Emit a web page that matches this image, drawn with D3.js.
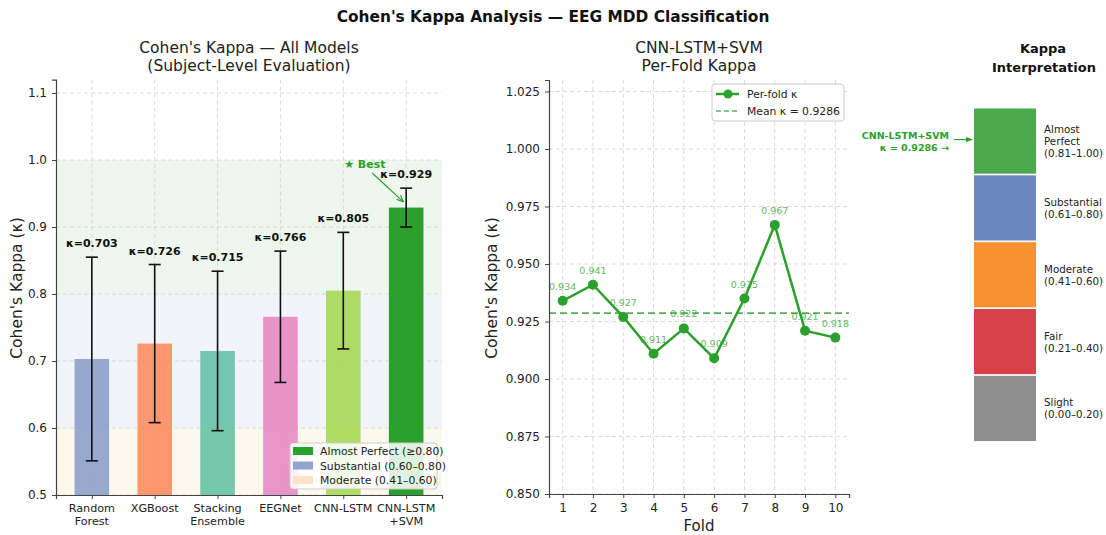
<!DOCTYPE html>
<html>
<head>
<meta charset="utf-8">
<script src="https://cdn.jsdelivr.net/npm/d3@7"></script>
<style>
  body { margin: 0; background: #fff; }
  svg { font-family: "DejaVu Sans", sans-serif; }
</style>
</head>
<body>
<svg id="chart" width="1106" height="535"></svg>
<script>
// ---- data ----
const models = ["Random Forest", "XGBoost", "Stacking Ensemble", "EEGNet", "CNN-LSTM", "CNN-LSTM +SVM"];
const modelLines = [["Random", "Forest"], ["XGBoost"], ["Stacking", "Ensemble"], ["EEGNet"], ["CNN-LSTM"], ["CNN-LSTM", "+SVM"]];
const kappaMean = [0.703, 0.726, 0.715, 0.766, 0.805, 0.929];
const kappaStd = [0.152, 0.118, 0.119, 0.098, 0.087, 0.029];
const barColors = ["#8da0cb", "#fc8d62", "#66c2a5", "#e78ac3", "#a6d854", "#2ca02c"];
const leftTicks = [0.5, 0.6, 0.7, 0.8, 0.9, 1.0, 1.1];

const folds = [1, 2, 3, 4, 5, 6, 7, 8, 9, 10];
const foldKappa = [0.934, 0.941, 0.927, 0.911, 0.922, 0.909, 0.935, 0.967, 0.921, 0.918];
const meanKappa = 0.9286;
const midTicks = [0.850, 0.875, 0.900, 0.925, 0.950, 0.975, 1.000, 1.025];

const bands = [
  { name: "Almost Perfect (≥0.80)", lo: 0.8, hi: 1.0, fill: "#edf7ed", swatch: "#2ca02c" },
  { name: "Substantial (0.60–0.80)", lo: 0.6, hi: 0.8, fill: "#f1f5fb", swatch: "#8fa3cf" },
  { name: "Moderate (0.41–0.60)", lo: 0.5, hi: 0.6, fill: "#fdf8ec", swatch: "#fde3c4" }
];

const levels = [["Almost", "Perfect", "(0.81–1.00)"], ["Substantial", "(0.61–0.80)"], ["Moderate", "(0.41–0.60)"], ["Fair", "(0.21–0.40)"], ["Slight", "(0.00–0.20)"]];
const levelColors = ["#4caa4c", "#6a88bd", "#f89131", "#d8414a", "#8e8e8e"];

const svg = d3.select("#chart");
const defs = svg.append("defs");
const gridColor = "#d0d0d0";
const textColor = "#222";

// ---- main title ----
svg.append("text").attr("x", 553).attr("y", 22).attr("text-anchor", "middle")
  .attr("font-size", 15.4).attr("font-weight", "bold").attr("fill", "#111")
  .text("Cohen's Kappa Analysis — EEG MDD Classification");

// ================= Left: bar chart =================
{
  const x = d3.scaleLinear().domain([-0.57, 5.57]).range([56, 442]);
  const y = d3.scaleLinear().domain([0.5, 1.12]).range([495, 79.6]);
  const g = svg.append("g");

  // interpretation bands
  bands.forEach(b => {
    g.append("rect").attr("x", x(-0.57)).attr("width", x(5.57) - x(-0.57))
      .attr("y", y(b.hi)).attr("height", y(b.lo) - y(b.hi)).attr("fill", b.fill);
  });

  // grid
  g.selectAll(".hg").data(leftTicks).join("line")
    .attr("x1", x(-0.57)).attr("x2", x(5.57)).attr("y1", d => y(d)).attr("y2", d => y(d))
    .attr("stroke", gridColor).attr("stroke-dasharray", "4,3").attr("stroke-width", 0.8);
  g.selectAll(".vg").data(models).join("line")
    .attr("x1", (d, i) => x(i)).attr("x2", (d, i) => x(i)).attr("y1", y(1.12)).attr("y2", y(0.5))
    .attr("stroke", gridColor).attr("stroke-dasharray", "4,3").attr("stroke-width", 0.8);

  // bars
  const bw = 0.55;
  g.selectAll(".bar").data(kappaMean).join("rect")
    .attr("x", (d, i) => x(i - bw / 2)).attr("width", x(bw) - x(0))
    .attr("y", d => y(d)).attr("height", d => y(0.5) - y(d))
    .attr("fill", (d, i) => barColors[i]).attr("opacity", (d, i) => i === 5 ? 1 : 0.9);

  // error bars and value labels
  kappaMean.forEach((m, i) => {
    const lo = m - kappaStd[i], hi = m + kappaStd[i];
    g.append("line").attr("x1", x(i)).attr("x2", x(i)).attr("y1", y(hi)).attr("y2", y(Math.max(lo, 0.5)))
      .attr("stroke", "#111").attr("stroke-width", 1.6);
    [hi, lo].forEach(v => {
      if (v >= 0.5) g.append("line").attr("x1", x(i) - 6).attr("x2", x(i) + 6).attr("y1", y(v)).attr("y2", y(v))
        .attr("stroke", "#111").attr("stroke-width", 1.6);
    });
    g.append("text").attr("x", x(i)).attr("y", y(hi) - 10).attr("text-anchor", "middle")
      .attr("font-size", 11).attr("font-weight", "bold").attr("fill", "#111")
      .text("κ=" + m.toFixed(3));
  });

  // best-model annotation
  const bi = 5;
  defs.append("marker").attr("id", "arrG").attr("viewBox", "0 0 10 10")
    .attr("refX", 9).attr("refY", 5).attr("markerWidth", 7).attr("markerHeight", 7).attr("orient", "auto")
    .attr("markerUnits", "userSpaceOnUse")
    .append("path").attr("d", "M0,1 L10,5 L0,9").attr("fill", "none").attr("stroke", "#2ca02c").attr("stroke-width", 1.6);
  g.append("line").attr("x1", x(bi) - 34).attr("y1", y(1.0) + 13)
    .attr("x2", x(bi) - 3).attr("y2", y(kappaMean[bi]) - 6)
    .attr("stroke", "#2ca02c").attr("stroke-width", 1.2).attr("marker-end", "url(#arrG)");
  g.append("text").attr("x", x(bi) - 62).attr("y", y(1.0) + 8)
    .attr("font-size", 11).attr("font-weight", "bold").attr("fill", "#2ca02c").text("★ Best");

  // axes
  const ya = d3.axisLeft(y).tickValues(leftTicks).tickFormat(d3.format(".1f")).tickSize(4).tickPadding(5);
  const yg = g.append("g").attr("transform", "translate(56,0)").call(ya);
  const xa = d3.axisBottom(x).tickValues(d3.range(6)).tickFormat("").tickSize(4);
  const xg = g.append("g").attr("transform", "translate(0,495)").call(xa);
  [yg, xg].forEach(a => {
    a.select(".domain").attr("stroke", "#444").attr("stroke-width", 1.2);
    a.selectAll(".tick line").attr("stroke", "#444");
    a.selectAll("text").attr("font-size", 12).attr("fill", textColor).attr("font-family", "DejaVu Sans");
  });
  modelLines.forEach((lines, i) => {
    lines.forEach((t, j) => {
      g.append("text").attr("x", x(i)).attr("y", 512 + j * 13).attr("text-anchor", "middle")
        .attr("font-size", 11.2).attr("fill", textColor).text(t);
    });
  });

  g.append("text").attr("transform", "translate(22,288) rotate(-90)").attr("text-anchor", "middle")
    .attr("font-size", 15.5).attr("fill", textColor).text("Cohen's Kappa (κ)");
  g.append("text").attr("x", 249).attr("y", 53).attr("text-anchor", "middle").attr("font-size", 15.5).attr("fill", textColor)
    .text("Cohen's Kappa — All Models");
  g.append("text").attr("x", 249).attr("y", 71).attr("text-anchor", "middle").attr("font-size", 15.5).attr("fill", textColor)
    .text("(Subject-Level Evaluation)");

  // legend
  const lg = g.append("g").attr("transform", "translate(290,443)");
  lg.append("rect").attr("width", 147).attr("height", 46).attr("rx", 3)
    .attr("fill", "rgba(255,255,255,0.85)").attr("stroke", "#ccc");
  bands.forEach((b, i) => {
    lg.append("rect").attr("x", 3).attr("y", 4 + i * 14.5).attr("width", 20).attr("height", 8).attr("fill", b.swatch);
    lg.append("text").attr("x", 30).attr("y", 12 + i * 14.5).attr("font-size", 10.8).attr("fill", textColor).text(b.name);
  });
}

// ================= Middle: per-fold line chart =================
{
  const x = d3.scaleLinear().domain([0.55, 10.45]).range([549, 849]);
  const y = d3.scaleLinear().domain([0.85, 1.03]).range([494, 80]);
  const g = svg.append("g");
  const green = "#2ca02c";

  g.selectAll(".hg").data(midTicks).join("line")
    .attr("x1", 549).attr("x2", 849).attr("y1", d => y(d)).attr("y2", d => y(d))
    .attr("stroke", gridColor).attr("stroke-dasharray", "4,3").attr("stroke-width", 0.8);
  g.selectAll(".vg").data(folds).join("line")
    .attr("x1", d => x(d)).attr("x2", d => x(d)).attr("y1", 80).attr("y2", 494)
    .attr("stroke", gridColor).attr("stroke-dasharray", "4,3").attr("stroke-width", 0.8);

  g.append("line").attr("x1", 549).attr("x2", 849).attr("y1", y(meanKappa)).attr("y2", y(meanKappa))
    .attr("stroke", green).attr("stroke-width", 1.8).attr("stroke-dasharray", "7,4").attr("opacity", 0.8);

  const line = d3.line().x((d, i) => x(folds[i])).y(d => y(d));
  g.append("path").datum(foldKappa).attr("d", line).attr("fill", "none").attr("stroke", green).attr("stroke-width", 2.5);
  g.selectAll(".pt").data(foldKappa).join("circle")
    .attr("cx", (d, i) => x(folds[i])).attr("cy", d => y(d)).attr("r", 5).attr("fill", green);
  g.selectAll(".lbl").data(foldKappa).join("text")
    .attr("x", (d, i) => x(folds[i])).attr("y", d => y(d) - 11).attr("text-anchor", "middle")
    .attr("font-size", 9.5).attr("fill", green).attr("opacity", 0.75).text(d => d.toFixed(3));

  const ya = d3.axisLeft(y).tickValues(midTicks).tickFormat(d3.format(".3f")).tickSize(4).tickPadding(5);
  const yg = g.append("g").attr("transform", "translate(549,0)").call(ya);
  const xa = d3.axisBottom(x).tickValues(folds).tickFormat(d3.format("d")).tickSize(4).tickPadding(5);
  const xg = g.append("g").attr("transform", "translate(0,494)").call(xa);
  [yg, xg].forEach(a => {
    a.select(".domain").attr("stroke", "#444").attr("stroke-width", 1.2);
    a.selectAll(".tick line").attr("stroke", "#444");
    a.selectAll("text").attr("font-size", 12).attr("fill", textColor).attr("font-family", "DejaVu Sans");
  });

  g.append("text").attr("transform", "translate(497,288) rotate(-90)").attr("text-anchor", "middle")
    .attr("font-size", 15.5).attr("fill", textColor).text("Cohen's Kappa (κ)");
  g.append("text").attr("x", 699).attr("y", 531).attr("text-anchor", "middle").attr("font-size", 15).attr("fill", textColor).text("Fold");
  g.append("text").attr("x", 699).attr("y", 53).attr("text-anchor", "middle").attr("font-size", 15.5).attr("fill", textColor).text("CNN-LSTM+SVM");
  g.append("text").attr("x", 699).attr("y", 71).attr("text-anchor", "middle").attr("font-size", 15.5).attr("fill", textColor).text("Per-Fold Kappa");

  const lg = g.append("g").attr("transform", "translate(712,84)");
  lg.append("rect").attr("width", 132).attr("height", 37).attr("rx", 3).attr("fill", "rgba(255,255,255,0.9)").attr("stroke", "#ccc");
  lg.append("line").attr("x1", 4).attr("x2", 27).attr("y1", 10).attr("y2", 10).attr("stroke", green).attr("stroke-width", 2.5);
  lg.append("circle").attr("cx", 16).attr("cy", 10).attr("r", 4.5).attr("fill", green);
  lg.append("text").attr("x", 35).attr("y", 14).attr("font-size", 10.8).attr("fill", textColor).text("Per-fold κ");
  lg.append("line").attr("x1", 4).attr("x2", 27).attr("y1", 27).attr("y2", 27).attr("stroke", green)
    .attr("stroke-width", 1.6).attr("stroke-dasharray", "5,3").attr("opacity", 0.8);
  lg.append("text").attr("x", 35).attr("y", 31).attr("font-size", 10.8).attr("fill", textColor).text("Mean κ = " + meanKappa.toFixed(4));
}

// ================= Right: interpretation scale =================
{
  const y = d3.scaleBand().domain(d3.range(levels.length)).range([108.5, 441]).paddingInner(0.025);
  const g = svg.append("g");
  g.append("text").attr("x", 1043).attr("y", 53).attr("text-anchor", "middle").attr("font-size", 13)
    .attr("font-weight", "bold").attr("fill", "#111").text("Kappa");
  g.append("text").attr("x", 1044).attr("y", 72).attr("text-anchor", "middle").attr("font-size", 13)
    .attr("font-weight", "bold").attr("fill", "#111").text("Interpretation");

  g.selectAll(".lv").data(levels).join("rect")
    .attr("x", 974).attr("width", 62).attr("y", (d, i) => y(i)).attr("height", y.bandwidth())
    .attr("fill", (d, i) => levelColors[i]);
  levels.forEach((lines, i) => {
    const cy = y(i) + y.bandwidth() / 2;
    const top = cy - (lines.length - 1) * 12 / 2;
    lines.forEach((t, j) => {
      g.append("text").attr("x", 1044).attr("y", top + j * 12 + 4).attr("font-size", 10.3).attr("fill", textColor).text(t);
    });
  });

  // pointer to the band of the best model
  const ay = y(0) + y.bandwidth() / 2 - 1.5;
  defs.append("marker").attr("id", "arrG2").attr("viewBox", "0 0 10 10")
    .attr("refX", 9).attr("refY", 5).attr("markerWidth", 6).attr("markerHeight", 6).attr("orient", "auto")
    .append("path").attr("d", "M0,1 L10,5 L0,9 Z").attr("fill", "#2ca02c");
  g.append("line").attr("x1", 954).attr("x2", 972).attr("y1", ay).attr("y2", ay)
    .attr("stroke", "#2ca02c").attr("stroke-width", 1.2).attr("marker-end", "url(#arrG2)");
  g.append("text").attr("x", 949).attr("y", ay - 1).attr("text-anchor", "end").attr("font-size", 9.5)
    .attr("font-weight", "bold").attr("fill", "#2ca02c").text("CNN-LSTM+SVM");
  g.append("text").attr("x", 949).attr("y", ay + 11).attr("text-anchor", "end").attr("font-size", 9.5)
    .attr("font-weight", "bold").attr("fill", "#2ca02c").text("κ = " + meanKappa.toFixed(4) + " →");
}
</script>
</body>
</html>
